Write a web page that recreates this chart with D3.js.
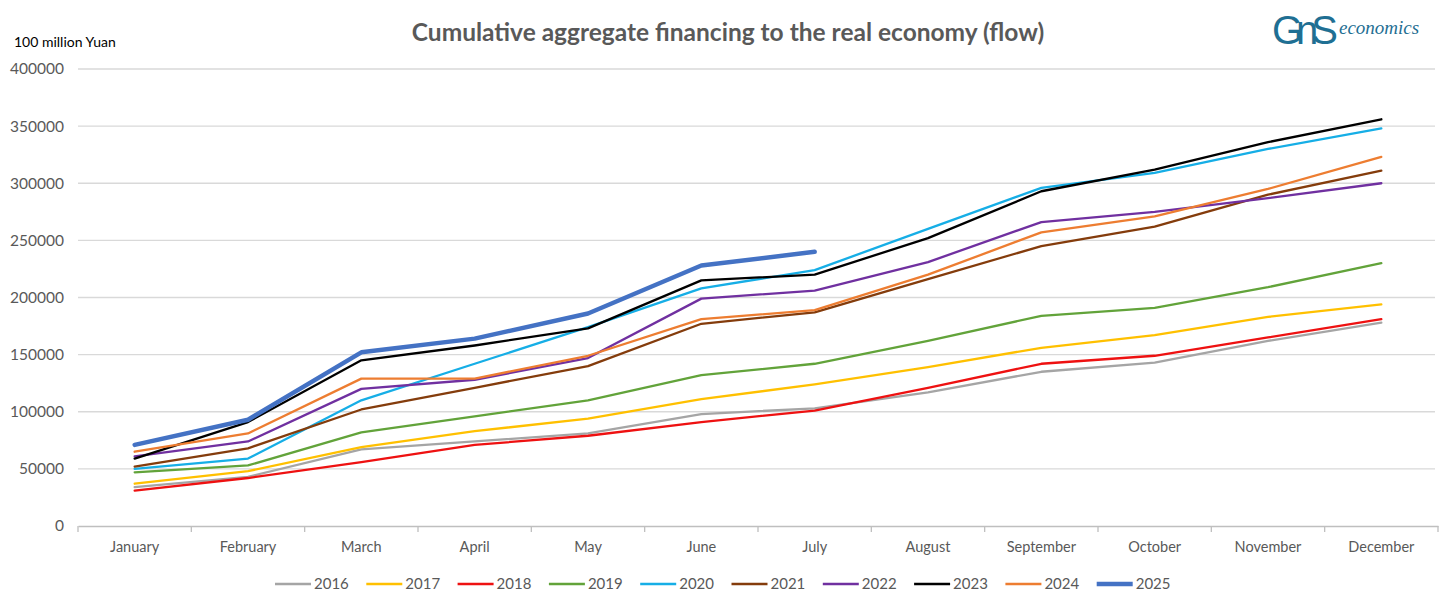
<!DOCTYPE html>
<html>
<head>
<meta charset="utf-8">
<script src="https://cdn.jsdelivr.net/npm/d3@7"></script>
<style>
    body { margin: 0; background: #fff; }
    svg { display: block; font-family: Lato, "Open Sans", sans-serif; }
</style>
</head>
<body>
<script>
const months = ['January', 'February', 'March', 'April', 'May', 'June', 'July',
    'August', 'September', 'October', 'November', 'December'];
const years = ['2016', '2017', '2018', '2019', '2020', '2021', '2022', '2023', '2024', '2025'];
const yTicks = [0, 50000, 100000, 150000, 200000, 250000, 300000, 350000, 400000];

// cumulative flow, 100 million yuan
const y2016 = [34000, 43000, 67000, 74000, 81000, 98000, 103000, 117000, 135000, 143000, 162000, 178000];
const y2017 = [37000, 48000, 69000, 83000, 94000, 111000, 124000, 139000, 156000, 167000, 183000, 194000];
const y2018 = [31000, 42000, 56000, 71000, 79000, 91000, 101000, 121000, 142000, 149000, 165000, 181000];
const y2019 = [47000, 53000, 82000, 96000, 110000, 132000, 142000, 162000, 184000, 191000, 209000, 230000];
const y2020 = [50000, 59000, 110000, 142000, 174000, 208000, 224000, 260000, 296000, 309000, 330000, 348000];
const y2021 = [52000, 68000, 102000, 121000, 140000, 177000, 187000, 216000, 245000, 262000, 290000, 311000];
const y2022 = [61000, 74000, 120000, 128000, 147000, 199000, 206000, 231000, 266000, 275000, 287000, 300000];
const y2023 = [59000, 91000, 145000, 158000, 173000, 215000, 220000, 252000, 293000, 312000, 336000, 356000];
const y2024 = [65000, 81000, 129000, 129000, 149000, 181000, 189000, 220000, 257000, 271000, 295000, 323000];
const y2025 = [71000, 93000, 152000, 164000, 186000, 228000, 240000];

const seriesValues = [y2016, y2017, y2018, y2019, y2020, y2021, y2022, y2023, y2024, y2025];
const colors = ['#a5a5a5', '#ffc000', '#ee1111', '#62a33a', '#16aee6', '#843c0c', '#7030a0', '#000000', '#ed7d31', '#4472c4'];

const width = 1456, height = 612;
const margin = {top: 69, right: 18, bottom: 86, left: 78};

const svg = d3.select('body').append('svg')
    .attr('width', width)
    .attr('height', height);

const x = d3.scaleBand()
    .domain(months)
    .range([margin.left, 1438]);

const y = d3.scaleLinear()
    .domain([0, 400000])
    .range([height - margin.bottom, margin.top]);

// grid
svg.append('g')
    .selectAll('line')
    .data(yTicks.filter(d => d > 0))
    .enter().append('line')
    .attr('x1', margin.left)
    .attr('x2', 1435)
    .attr('y1', d => y(d))
    .attr('y2', d => y(d))
    .attr('stroke', '#d9d9d9')
    .attr('stroke-width', 1.3);

// y labels
svg.append('g')
    .selectAll('text')
    .data(yTicks)
    .enter().append('text')
    .attr('x', 64)
    .attr('y', d => y(d))
    .attr('dy', '0.35em')
    .attr('text-anchor', 'end')
    .attr('fill', '#595959')
    .style('font-size', '15.5px')
    .text(d => d);

// x axis
const xAxis = d3.axisBottom(x).tickSize(0).tickPadding(16);
const gx = svg.append('g')
    .attr('transform', `translate(0,${y(0)})`)
    .call(xAxis);
gx.select('.domain').attr('stroke', '#bfbfbf').attr('stroke-width', 1.3);
gx.selectAll('text').attr('fill', '#595959').style('font-size', '14.5px').style('font-family', 'Lato, sans-serif');

svg.append('g')
    .selectAll('line')
    .data(d3.range(months.length + 1))
    .enter().append('line')
    .attr('x1', i => margin.left + i * x.step())
    .attr('x2', i => margin.left + i * x.step())
    .attr('y1', y(0))
    .attr('y2', y(0) + 6)
    .attr('stroke', '#bfbfbf')
    .attr('stroke-width', 1.3);

// lines
const line = d3.line()
    .x((d, i) => x(months[i]) + x.bandwidth() / 2)
    .y(d => y(d));

svg.append('g')
    .selectAll('path')
    .data(seriesValues)
    .enter().append('path')
    .attr('fill', 'none')
    .attr('stroke', (d, i) => colors[i])
    .attr('stroke-width', (d, i) => i === 9 ? 4.5 : 2.3)
    .attr('stroke-linejoin', 'round')
    .attr('stroke-linecap', 'round')
    .attr('d', line);

// title
svg.append('text')
    .attr('x', 728)
    .attr('y', 41)
    .attr('text-anchor', 'middle')
    .attr('fill', '#595959')
    .style('font-size', '24.5px')
    .style('font-weight', 'bold')
    .text('Cumulative aggregate financing to the real economy (flow)');

svg.append('text')
    .attr('x', 14)
    .attr('y', 47)
    .attr('fill', '#000')
    .style('font-size', '14px')
    .text('100 million Yuan');

// logo
const logo = svg.append('g').attr('transform', 'translate(1272,0)');
logo.append('text')
    .attr('x', 0).attr('y', 44)
    .attr('fill', '#1f6f93')
    .style('font-family', '"Liberation Sans", sans-serif')
    .style('font-size', '40px')
    .style('letter-spacing', '-7px')
    .text('GnS');
logo.append('text')
    .attr('x', 67).attr('y', 34)
    .attr('fill', '#1f6f93')
    .style('font-family', '"Liberation Serif", serif')
    .style('font-style', 'italic')
    .style('font-size', '19px')
    .text('economics');

// legend
const legend = svg.append('g')
    .selectAll('g')
    .data(years)
    .enter().append('g')
    .attr('transform', (d, i) => `translate(${275 + i * 91.3},584)`);
legend.append('line')
    .attr('x1', 0).attr('x2', 36)
    .attr('stroke', (d, i) => colors[i])
    .attr('stroke-width', (d, i) => i === 9 ? 4.5 : 2.5);
legend.append('text')
    .attr('x', 39)
    .attr('dy', '0.35em')
    .attr('fill', '#595959')
    .style('font-size', '15px')
    .text(d => d);
</script>
</body>
</html>
